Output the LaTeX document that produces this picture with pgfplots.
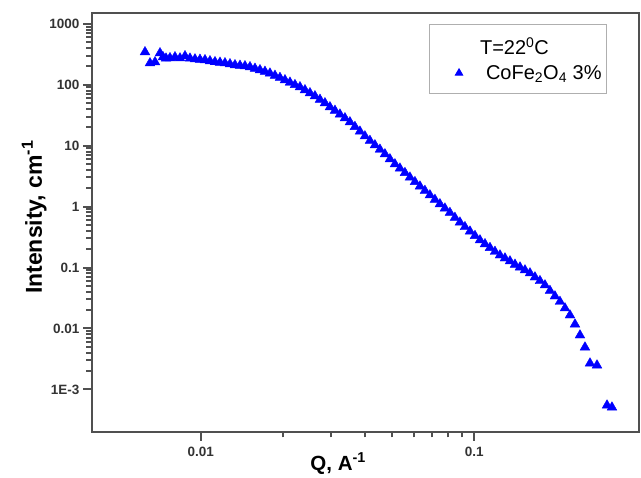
\documentclass[border=0pt]{standalone}
\usepackage{fontspec}
\setmainfont{Liberation Sans}
\usepackage{pgfplots}
\pgfplotsset{compat=1.18}
\definecolor{axgray}{RGB}{80,80,80}
\definecolor{leggray}{RGB}{175,175,175}
\begin{document}
\begin{tikzpicture}
\begin{axis}[
  scale only axis,
  width=547pt, height=419pt,
  xmode=log, ymode=log,
  xmin=0.004, xmax=0.4,
  ymin=2e-4, ymax=1500,
  xtick={0.01,0.1}, xticklabels={0.01,0.1},
  ytick={0.001,0.01,0.1,1,10,100,1000},
  yticklabels={1E-3,0.01,0.1,1,10,100,1000},
  xtick pos=bottom, ytick pos=left,
  tick align=outside,
  major tick length=9pt, minor tick length=5.5pt,
  ytick style={draw=axgray, line width=2pt},
  xtick style={draw=axgray, line width=2pt},
  axis line style={draw=axgray, line width=1.6pt},
  ticklabel style={font=\bfseries\fontsize{13.5}{15}\selectfont, text=black!80},
  xticklabel style={yshift=-3pt},
  xlabel={Q, A\textsuperscript{-1}},
  ylabel={Intensity, cm\textsuperscript{-1}},
  xlabel style={font=\bfseries\fontsize{20.5}{22}\selectfont, at={(axis description cs:0.45,-0.0907)}, anchor=base},
  ylabel style={font=\bfseries\fontsize{23}{25}\selectfont, at={(axis description cs:-0.0914,0.513)}, anchor=base},
  legend style={at={(axis description cs:0.9415,0.9737)}, anchor=north east,
    draw=leggray, line width=0.9pt, font=\fontsize{20}{24}\selectfont,
    inner xsep=3pt, inner ysep=11pt, row sep=5pt},
  legend cell align=left,
]
\addlegendimage{empty legend}
\addlegendentry{\hspace*{-6pt}T=22\textsuperscript{0}C}
\addplot[only marks, mark=triangle*, mark size=5.6pt, color=blue, mark options={fill=blue, draw=blue},
  legend image code/.code={\path[draw=none,fill=none] (0pt,0pt) -- (52pt,0pt);
    \path[draw=none] plot[mark=triangle*, mark size=4.2pt, mark options={fill=blue, draw=blue}] coordinates {(27pt,0pt)};}] coordinates {
(0.006250,343) (0.006519,226) (0.006800,235) (0.007093,330) (0.007274,284)
(0.007460,270) (0.007714,274) (0.008045,284) (0.008391,272) (0.008752,295)
(0.009128,270) (0.009520,262) (0.009929,258) (0.010356,254) (0.010801,244)
(0.011266,236) (0.011750,231) (0.012255,226) (0.012782,218) (0.013331,210)
(0.013904,206) (0.014502,202) (0.015125,195) (0.015775,184) (0.016453,174)
(0.017161,164) (0.017898,153.5) (0.018668,141) (0.019471,130) (0.020308,119)
(0.021181,108.7) (0.022091,99.3) (0.023041,91.4) (0.024031,81.6) (0.025064,72.9)
(0.026142,65.0) (0.027265,57.0) (0.028437,49.9) (0.029660,42.9) (0.030935,37.6)
(0.032264,32.6) (0.033651,28.3) (0.035098,24.3) (0.036606,20.4) (0.038180,17.1)
(0.039821,14.3) (0.041533,12.04) (0.043318,10.2) (0.045180,8.64) (0.047122,7.26)
(0.049148,6.01) (0.051260,4.97) (0.053464,4.23) (0.055762,3.58) (0.058159,3.01)
(0.060659,2.54) (0.063266,2.15) (0.065985,1.82) (0.068822,1.54) (0.071780,1.30)
(0.074866,1.10) (0.078084,0.935) (0.081440,0.792) (0.084941,0.658) (0.088592,0.551)
(0.092400,0.463) (0.09641,0.392) (0.10056,0.332) (0.10488,0.281) (0.10939,0.243)
(0.11409,0.211) (0.11899,0.182) (0.12411,0.159) (0.12944,0.142) (0.13501,0.127)
(0.14081,0.112) (0.14686,0.101) (0.15318,0.0904) (0.15977,0.0807) (0.16663,0.0693)
(0.17380,0.0603) (0.18127,0.0513) (0.18906,0.0416) (0.19719,0.0338) (0.20566,0.0275)
(0.21450,0.0215) (0.22372,0.0165) (0.23334,0.0117) (0.24337,0.00774) (0.25383,0.00491)
(0.2648,0.00268) (0.2809,0.00249) (0.3056,0.000548) (0.3186,0.000508)
};
\addlegendentry{CoFe\textsubscript{2}O\textsubscript{4} 3\%}
\end{axis}
\path[use as bounding box] (-92pt,-39pt) rectangle (549pt,432pt);
\end{tikzpicture}
\end{document}
